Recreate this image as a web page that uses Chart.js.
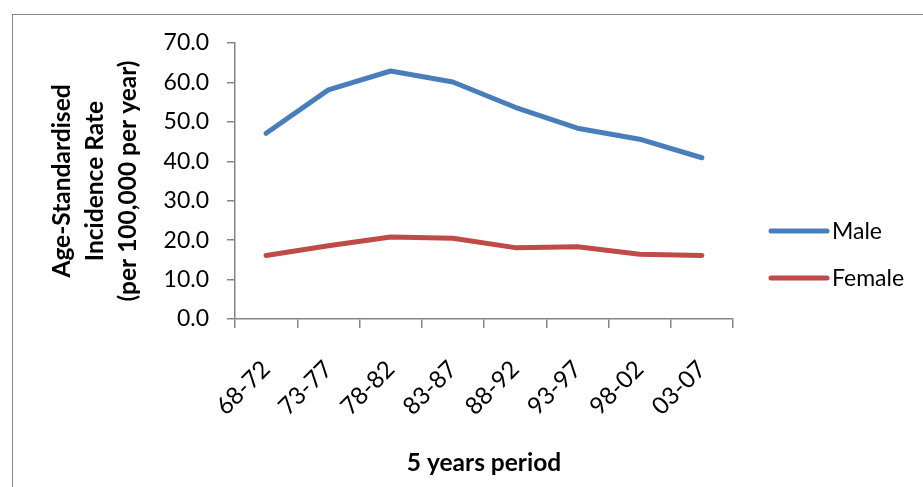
<!DOCTYPE html>
<html>
<head>
<meta charset="utf-8">
<script src="https://cdn.jsdelivr.net/npm/chart.js@4/dist/chart.umd.min.js"></script>
<style>
html,body{margin:0;padding:0;background:#fff;width:923px;height:487px;overflow:hidden}
#frame{position:absolute;left:12px;top:14px;width:1000px;height:600px;border-left:1px solid #878787;border-top:1px solid #878787;box-sizing:border-box}
#wrap{position:absolute;left:0;top:0;width:923px;height:487px}
</style>
</head>
<body>
<div id="frame"></div>
<div id="wrap"><canvas id="c" width="923" height="487"></canvas></div>
<script>
const periods = ['68-72','73-77','78-82','83-87','88-92','93-97','98-02','03-07'];
const maleRates = [47.1, 58.1, 62.9, 60.1, 53.7, 48.4, 45.6, 40.9];
const femaleRates = [16.1, 18.6, 20.8, 20.5, 18.1, 18.3, 16.4, 16.1];
const seriesNames = ['Male', 'Female'];
const yTitleLines = ['Age-Standardised', 'Incidence Rate', '(per 100,000 per year)'];
const xTitle = '5 years period';
const yMin = 0, yMax = 70, yStep = 10;

const FONT = 'Lato, "Open Sans", sans-serif';
const axisGrey = '#868686';

// Legend drawn to the right of the plot area, using the datasets' own labels and colours
const sideLegend = {
  id: 'sideLegend',
  afterDraw(chart) {
    const ctx = chart.ctx;
    const area = chart.chartArea;
    const x0 = area.right + 38;
    const lineLen = 56;
    const firstY = 231, gap = 47;
    ctx.save();
    ctx.font = '23px ' + FONT;
    ctx.textAlign = 'left';
    ctx.textBaseline = 'middle';
    chart.data.datasets.forEach((ds, i) => {
      const y = firstY + i * gap;
      ctx.strokeStyle = ds.borderColor;
      ctx.lineWidth = ds.borderWidth;
      ctx.lineCap = 'round';
      ctx.beginPath();
      ctx.moveTo(x0, y);
      ctx.lineTo(x0 + lineLen, y);
      ctx.stroke();
      ctx.fillStyle = '#000';
      ctx.fillText(ds.label, x0 + lineLen + 5, y + 1);
    });
    ctx.restore();
  }
};

new Chart(document.getElementById('c'), {
  type: 'line',
  data: {
    labels: periods,
    datasets: [
      { label: seriesNames[0], data: maleRates, borderColor: '#4A7EBB', backgroundColor: '#4A7EBB',
        borderWidth: 5, pointRadius: 0, tension: 0, borderCapStyle: 'round', borderJoinStyle: 'round' },
      { label: seriesNames[1], data: femaleRates, borderColor: '#BE4B48', backgroundColor: '#BE4B48',
        borderWidth: 5, pointRadius: 0, tension: 0, borderCapStyle: 'round', borderJoinStyle: 'round' }
    ]
  },
  options: {
    responsive: false,
    animation: false,
    layout: { padding: { top: 43, left: 0, bottom: 0, right: 190 } },
    plugins: {
      tooltip: { enabled: false },
      legend: { display: false }
    },
    scales: {
      x: {
        offset: true,
        grid: { display: true, offset: true, drawOnChartArea: false, drawTicks: true, tickLength: 9, color: axisGrey, lineWidth: 1.5 },
        border: { display: true, color: axisGrey, width: 1.5 },
        ticks: { color: '#000', font: { family: FONT, size: 24 }, minRotation: 45, maxRotation: 45, padding: 27, autoSkip: false },
        title: { display: true, text: xTitle, color: '#000', font: { family: FONT, size: 24.5, weight: 'bold', lineHeight: 1.2 }, padding: { top: 0, bottom: 9 } },
        afterFit: (s) => { s.height = 168; }
      },
      y: {
        min: yMin, max: yMax,
        grid: { display: true, drawOnChartArea: false, drawTicks: true, tickLength: 8, color: axisGrey, lineWidth: 1.5 },
        border: { display: true, color: axisGrey, width: 1.5 },
        ticks: { stepSize: yStep, color: '#000', font: { family: FONT, size: 23 }, padding: 18,
          callback: (v) => Number(v).toFixed(1) },
        title: { display: true, text: yTitleLines, color: '#000', font: { family: FONT, size: 24.5, weight: 'bold', lineHeight: 1.36 }, padding: { top: 45, bottom: 0 } },
        afterFit: (s) => { s.width = 235; }
      }
    }
  },
  plugins: [sideLegend]
});
</script>
</body>
</html>
